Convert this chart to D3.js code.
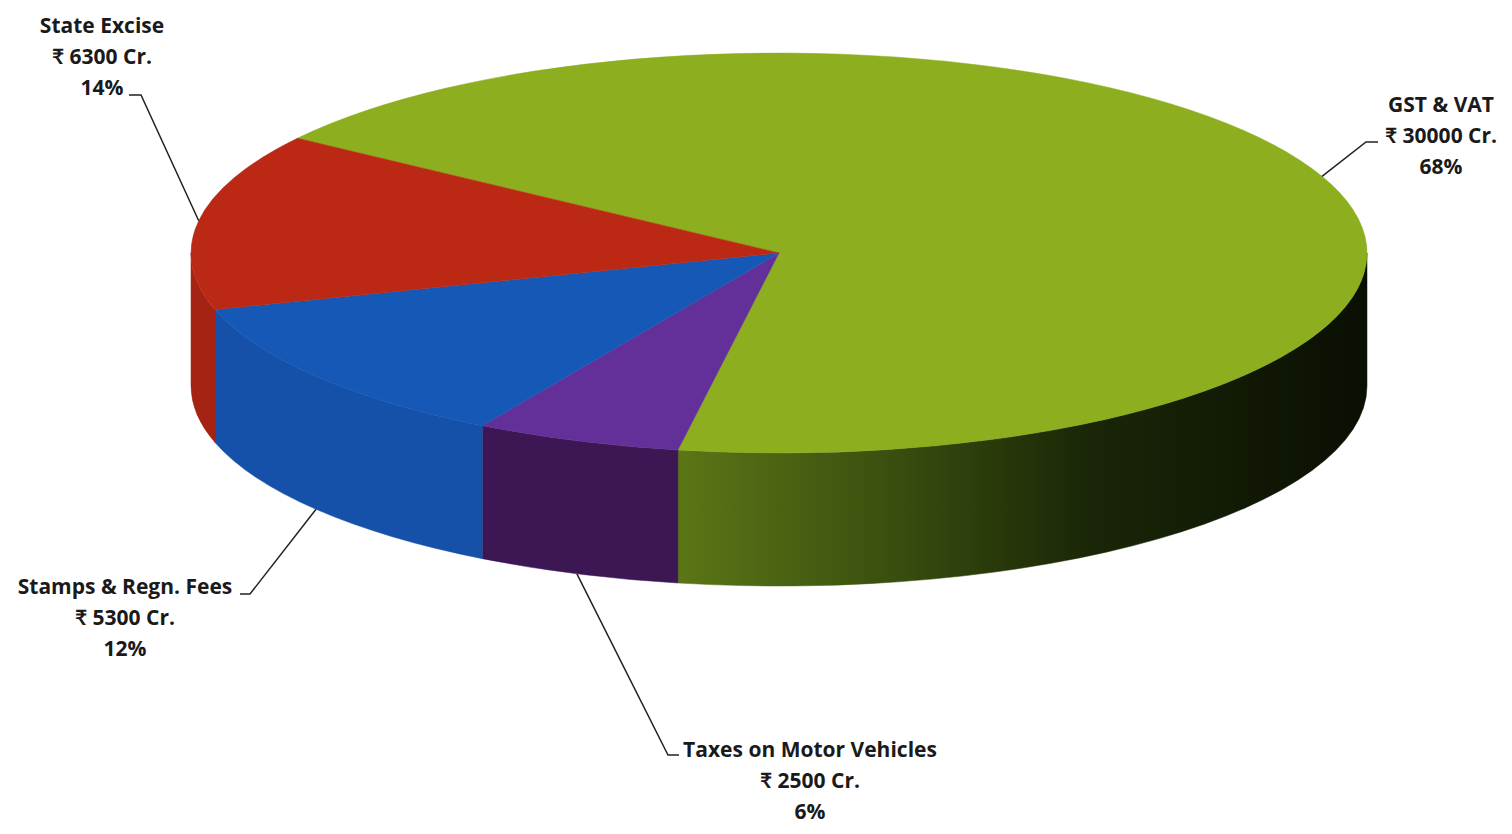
<!DOCTYPE html>
<html>
<head>
<meta charset="utf-8">
<script src="https://cdn.jsdelivr.net/npm/d3@7"></script>
<style>
  html, body { margin: 0; padding: 0; background: #ffffff; }
  svg { display: block; }
  text { font-family: "Open Sans", Lato, "Noto Sans", sans-serif; font-weight: 700; fill: #1a1a1a; }
</style>
</head>
<body>
<svg id="chart" width="1512" height="834"></svg>
<script>
// ---- data ----
const categories = ["GST & VAT", "Taxes on Motor Vehicles", "Stamps & Regn. Fees", "State Excise"];
const values = [30000, 2500, 5300, 6300];          // ₹ Crore
const topColors = ["#8cae1f", "#63309a", "#1558b6", "#bb2915"];
const sideColors = ["url(#greenSide)", "#3c1753", "#1551a8", "#a52313"];
// label layout: centre x, first baseline y, leader text-end point and elbow point
const labelLayout = [
  { x: 1441, y: 112, ex: 1378, ey: 142, bx: 1366, by: 142 },
  { x: 810,  y: 757, ex: 679,  ey: 755, bx: 668,  by: 755 },
  { x: 125,  y: 594, ex: 240,  ey: 594, bx: 250,  by: 594 },
  { x: 102,  y: 33,  ex: 129,  ey: 95,  bx: 141,  by: 95 }
];

// ---- geometry ----
const cx = 779, cy = 253, rx = 588, ry = 200, depth = 133;
const svg = d3.select("#chart");
const total = d3.sum(values);
const pct = d3.format(".0%");

const pie = d3.pie().sort(null)
  .startAngle(-55 * Math.PI / 180)
  .endAngle(305 * Math.PI / 180);
const arcs = pie(values);

// d3 angle (clockwise from 12 o'clock) -> screen angle phi (clockwise from +x)
const phi = a => a - Math.PI / 2;
const pt = (p, dy = 0) => [cx + rx * Math.cos(p), cy + ry * Math.sin(p) + dy];

const defs = svg.append("defs");
const g1 = defs.append("linearGradient").attr("id", "greenSide")
  .attr("gradientUnits", "userSpaceOnUse")
  .attr("x1", 679).attr("y1", 0).attr("x2", cx + rx).attr("y2", 0);
g1.append("stop").attr("offset", 0).attr("stop-color", "#5a7616");
g1.append("stop").attr("offset", 0.3).attr("stop-color", "#3a500f");
g1.append("stop").attr("offset", 0.6).attr("stop-color", "#1a2607");
g1.append("stop").attr("offset", 1).attr("stop-color", "#0a0f03");

// side walls (front half only: phi in [0, PI] modulo 2PI)
function sideSegments(p1, p2) {
  const segs = [];
  for (let k = -1; k <= 1; k++) {
    const lo = Math.max(p1, k * 2 * Math.PI), hi = Math.min(p2, k * 2 * Math.PI + Math.PI);
    if (hi > lo) segs.push([lo, hi]);
  }
  return segs;
}
const sides = [];
arcs.forEach((d, i) => {
  sideSegments(phi(d.startAngle), phi(d.endAngle)).forEach(s => sides.push({ i, s }));
});
svg.append("g").selectAll("path").data(sides).join("path")
  .attr("d", ({ s }) => {
    const [a, b] = s;
    const large = (b - a) > Math.PI ? 1 : 0;
    const t1 = pt(a), t2 = pt(b), b2 = pt(b, depth), b1 = pt(a, depth);
    return `M${t1}A${rx},${ry} 0 ${large} 1 ${t2}L${b2}A${rx},${ry} 0 ${large} 0 ${b1}Z`;
  })
  .attr("fill", d => sideColors[d.i])
  .attr("stroke", d => sideColors[d.i]).attr("stroke-width", 0.5);

// top faces
svg.append("g").selectAll("path").data(arcs).join("path")
  .attr("d", d => {
    const a = phi(d.startAngle), b = phi(d.endAngle);
    const large = (b - a) > Math.PI ? 1 : 0;
    return `M${cx},${cy}L${pt(a)}A${rx},${ry} 0 ${large} 1 ${pt(b)}Z`;
  })
  .attr("fill", (d, i) => topColors[i])
  .attr("stroke", (d, i) => topColors[i]).attr("stroke-width", 0.5);

// leader lines (anchor on rim at slice mid-angle)
svg.append("g").selectAll("polyline").data(arcs).join("polyline")
  .attr("points", (d, i) => {
    const m = phi((d.startAngle + d.endAngle) / 2);
    const front = Math.sin(m) > 0;
    const anc = pt(m, front ? depth : 0);
    const L = labelLayout[i];
    return [anc, [L.bx, L.by], [L.ex, L.ey]].map(p => p.join(",")).join(" ");
  })
  .attr("fill", "none").attr("stroke", "#222").attr("stroke-width", 1.5);

// labels
const lbl = svg.append("g").selectAll("text").data(arcs).join("text")
  .attr("text-anchor", "middle")
  .attr("font-size", 21);
lbl.each(function (d, i) {
  const L = labelLayout[i];
  const lines = [categories[i], `₹ ${values[i]} Cr.`, pct(values[i] / total)];
  d3.select(this).selectAll("tspan").data(lines).join("tspan")
    .attr("x", L.x).attr("y", (t, j) => L.y + j * 31).text(t => t);
});
</script>
</body>
</html>
